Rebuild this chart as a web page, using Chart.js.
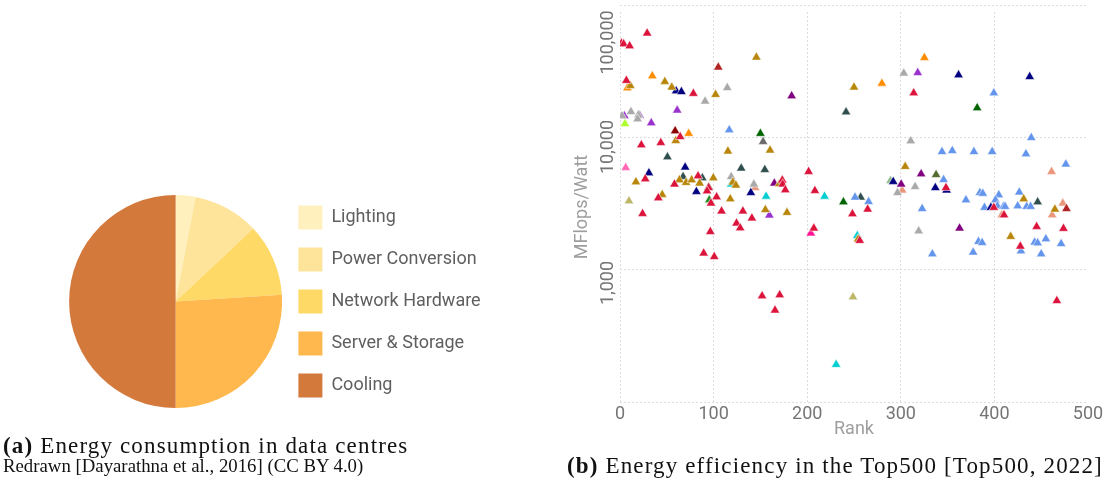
<!DOCTYPE html>
<html>
<head>
<meta charset="utf-8">
<script src="https://cdn.jsdelivr.net/npm/chart.js@4.4.0/dist/chart.umd.min.js"></script>
<style>
  body { margin: 0; background: #fff; width: 1108px; height: 489px; position: relative; overflow: hidden; }
  canvas { position: absolute; }
  #pieChart { left: 0; top: 0; }
  #scatterChart { left: 560px; top: 0; }
  .caption { position: absolute; font-family: "Liberation Serif", serif; color: #111; white-space: nowrap; line-height: 1; }
  .caption b { font-weight: bold; }
  #capA { left: 3px; top: 434px; font-size: 23px; letter-spacing: 1.15px; }
  #capA2 { left: 3px; top: 457px; font-size: 18.8px; }
  #capB { left: 567px; top: 454px; font-size: 23px; letter-spacing: 1.15px; }
</style>
</head>
<body>
<canvas id="pieChart" width="500" height="480"></canvas>
<canvas id="scatterChart" width="548" height="445"></canvas>
<div class="caption" id="capA"><b>(a)</b> Energy consumption in data centres</div>
<div class="caption" id="capA2">Redrawn [Dayarathna et al., 2016] (CC BY 4.0)</div>
<div class="caption" id="capB"><b>(b)</b> Energy efficiency in the Top500 [Top500, 2022]</div>
<script>
// ---- (a) energy consumption in data centres, share in %
const energyLabels = ['Lighting', 'Power Conversion', 'Network Hardware', 'Server & Storage', 'Cooling'];
const energyShare = [3, 10, 11, 26, 50];
const energyColors = ['#fff0bd', '#fee39b', '#ffd966', '#ffb84d', '#d4793c'];

// ---- (b) Top500: [rank, MFlops/Watt], one list per marker colour
const crimsonPts = [[29,62100],[1.5,52100],[3.9,51500],[10.3,49800],[6.8,27200],[78.4,21700],[64.3,10200],[22.8,8850],[43.6,9210],[27,4890],[58.2,4460],[83.4,5150],[94.7,4200],[93,3960],[103.2,3570],[97.2,3200],[173.4,4790],[173.8,4460],[176.6,4040],[201.5,5560],[208.2,3990],[40.9,3510],[24.1,2670],[108.5,2790],[131.3,2790],[140.9,2470],[124.5,2260],[128.4,2080],[96.5,1950],[89.4,1340],[100.7,1260],[207.1,2070],[151.8,635],[170.6,647],[165.6,495],[313.8,21900],[348.3,4200],[264.6,2880],[248.3,2660],[399.4,2970],[410.3,2610],[427.7,1510],[445.1,2130],[473.8,2060],[256.1,1670],[466.7,585]];
const deeppinkPts = [[203.9,1900]];
const firebrickPts = [[105,34300],[477,2910]];
const goldenrodPts = [[145.7,40800],[47.9,26700],[11.1,24900],[55.3,24200],[102.1,21300],[59.6,9540],[160.3,8070],[115.3,7930],[17,4640],[63.5,4810],[70.6,4590],[76.6,4810],[85.1,4540],[99.7,4980],[117.8,3450],[120.6,4610],[123.8,4380],[170.2,4490],[45.1,3720],[155.3,2860],[178.4,2720],[250,24200],[304.7,6070],[431.3,3450],[464.6,2880],[417.4,1790],[254.3,1710]];
const orangePts = [[34.5,29500],[7.9,23900],[73.4,10800],[325.2,40600],[279.8,25900]];
const navyPts = [[60,22700],[65.6,22400],[69.6,6000],[30.9,5430],[81.6,3920],[139.8,3850],[361.7,30000],[437.7,29100],[291.9,4670],[336.9,4200],[348.9,4020],[396.2,2970]];
const grayPts = [[114.6,24000],[90.9,18950],[11.7,15800],[2.1,14700],[19.6,14900],[18.8,13900],[118.8,5090],[143,4460],[303.2,30900],[310.6,9490],[296.5,3850],[315.3,4280],[319.1,1970]];
const orchidPts = [[61.1,16200],[4.7,14700],[21,14800],[33.4,13000],[159.6,2600],[318.1,31200]];
const purplePts = [[183.4,20800],[164.9,4540],[321.7,5340],[300.4,4460],[362.8,2070]];
const greenyellowPts = [[5.3,12800]];
const darkredPts = [[58.9,11300]];
const bluePts = [[116.7,11500],[399.4,21900],[439.4,10050],[344,7870],[355,8010],[378.1,7870],[397.6,7870],[433.7,7570],[476.3,6320],[345.7,4830],[251.1,3550],[265.6,3290],[322.8,2910],[369.6,3390],[384.5,3850],[387.6,3800],[404.7,3700],[401.1,3390],[389.4,2970],[403.2,3050],[409.6,3020],[411.4,3020],[426.6,3880],[424.9,3050],[434.5,3020],[438.7,3020],[333.7,1320],[377.3,1360],[383,1640],[386.9,1610],[428.4,1390],[443,1620],[446.2,1600],[455,1720],[450,1320],[471.3,1580]];
const darkgreenPts = [[150,10800],[381.6,16900],[238.7,3270]];
const dimgrayPts = [[152.9,9380]];
const slatePts = [[50.7,7180],[67.4,5090],[88,4980],[129.5,5890],[154.7,5750],[241.5,15700],[257.1,3550],[446.2,3270]];
const hotpinkPts = [[6.1,5960]];
const forestPts = [[94.7,4260],[95.4,3390]];
const turquoisePts = [[118.8,4460],[156.1,3610],[218.5,3610],[253.5,1820],[230.9,192]];
const salmonPts = [[144.4,4200],[461.1,5560],[301.5,4020],[407.9,2610],[473.1,3200],[461.7,2610]];
const olivePts = [[337.7,5270]];
const seagreenPts = [[289,4750]];
const khakiPts = [[9.6,3330],[248.9,624]];

const rankTicks = [0, 100, 200, 300, 400, 500];
const yTickValues = [100, 1000, 10000, 100000];
const yTickLabels = ['', '1,000', '10,000', '100,000'];

Chart.defaults.font.family = 'Roboto';
Chart.defaults.animation = false;

// pie chart with legend on the right
new Chart(document.getElementById('pieChart'), {
  type: 'pie',
  data: {
    labels: energyLabels,
    datasets: [{
      data: energyShare,
      backgroundColor: energyColors,
      borderWidth: 0,
      hoverOffset: 0
    }]
  },
  options: {
    responsive: false,
    events: [],
    radius: 106.5,
    layout: { padding: { left: 70.8, top: 123, bottom: 0, right: 10 } },
    plugins: {
      tooltip: { enabled: false },
      legend: {
        position: 'right',
        labels: {
          boxWidth: 24,
          boxHeight: 24,
          padding: 18,
          color: '#5f5f5f',
          font: { size: 18 }
        }
      }
    }
  }
});

// scatter of every colour group
const scatterGroups = [
  ['crimson', crimsonPts], ['deeppink', deeppinkPts], ['firebrick', firebrickPts],
  ['darkgoldenrod', goldenrodPts], ['darkorange', orangePts], ['navy', navyPts],
  ['darkgray', grayPts], ['darkorchid', orchidPts], ['purple', purplePts],
  ['greenyellow', greenyellowPts], ['darkred', darkredPts], ['cornflowerblue', bluePts],
  ['darkgreen', darkgreenPts], ['dimgray', dimgrayPts], ['darkslategray', slatePts],
  ['hotpink', hotpinkPts], ['forestgreen', forestPts], ['darkturquoise', turquoisePts],
  ['darksalmon', salmonPts], ['darkolivegreen', olivePts], ['darkseagreen', seagreenPts],
  ['darkkhaki', khakiPts]
];

const gridColor = '#dcdcdc';
const tickFont = { size: 18 };
// extra trailing spaces push the rotated labels down like the original
const yLabelPad = [0, 2, 0, 5];

new Chart(document.getElementById('scatterChart'), {
  type: 'scatter',
  data: {
    datasets: scatterGroups.map(g => ({
      data: g[1],
      backgroundColor: g[0],
      borderColor: 'rgba(255,255,255,0.55)',
      borderWidth: 1,
      pointStyle: 'triangle',
      pointRadius: 5.5
    }))
  },
  options: {
    responsive: false,
    events: [],
    layout: { padding: { top: 12, right: 20, left: 0, bottom: 0 } },
    plugins: { legend: { display: false }, tooltip: { enabled: false } },
    scales: {
      x: {
        type: 'linear',
        min: rankTicks[0],
        max: rankTicks[rankTicks.length - 1],
        afterBuildTicks: s => { s.ticks = rankTicks.map(v => ({ value: v })); },
        afterFit: s => { s.height = 43; s.paddingLeft = 0; s.paddingRight = 0; },
        ticks: { color: '#757575', font: tickFont, padding: 2, maxRotation: 0, autoSkip: false },
        grid: {
          drawTicks: false,
          color: c => (c.tick && c.tick.value === 500) ? 'rgba(0,0,0,0)' : gridColor
        },
        border: { display: false, dash: [2, 2] },
        title: { display: true, text: 'Rank', color: '#9e9e9e', font: { size: 18 }, padding: { top: 0, bottom: 5 } }
      },
      y: {
        type: 'logarithmic',
        min: 100,
        max: 90000,
        afterBuildTicks: s => { s.ticks = yTickValues.map(v => ({ value: v })); },
        afterFit: s => { s.width = 60; s.paddingTop = 0; s.paddingBottom = 0; },
        ticks: {
          color: '#757575',
          font: tickFont,
          autoSkip: false,
          minRotation: 90,
          maxRotation: 90,
          padding: 12,
          labelOffset: -18,
          callback: v => {
            const i = yTickValues.indexOf(v);
            return i < 0 ? '' : yTickLabels[i] + ' '.repeat(yLabelPad[i]);
          }
        },
        grid: { drawTicks: false, color: gridColor },
        border: { display: false, dash: [2, 2] },
        title: { display: true, text: 'MFlops/Watt', color: '#9e9e9e', font: { size: 18 }, padding: { top: 12, bottom: 0 } }
      }
    }
  }
});
</script>
</body>
</html>
